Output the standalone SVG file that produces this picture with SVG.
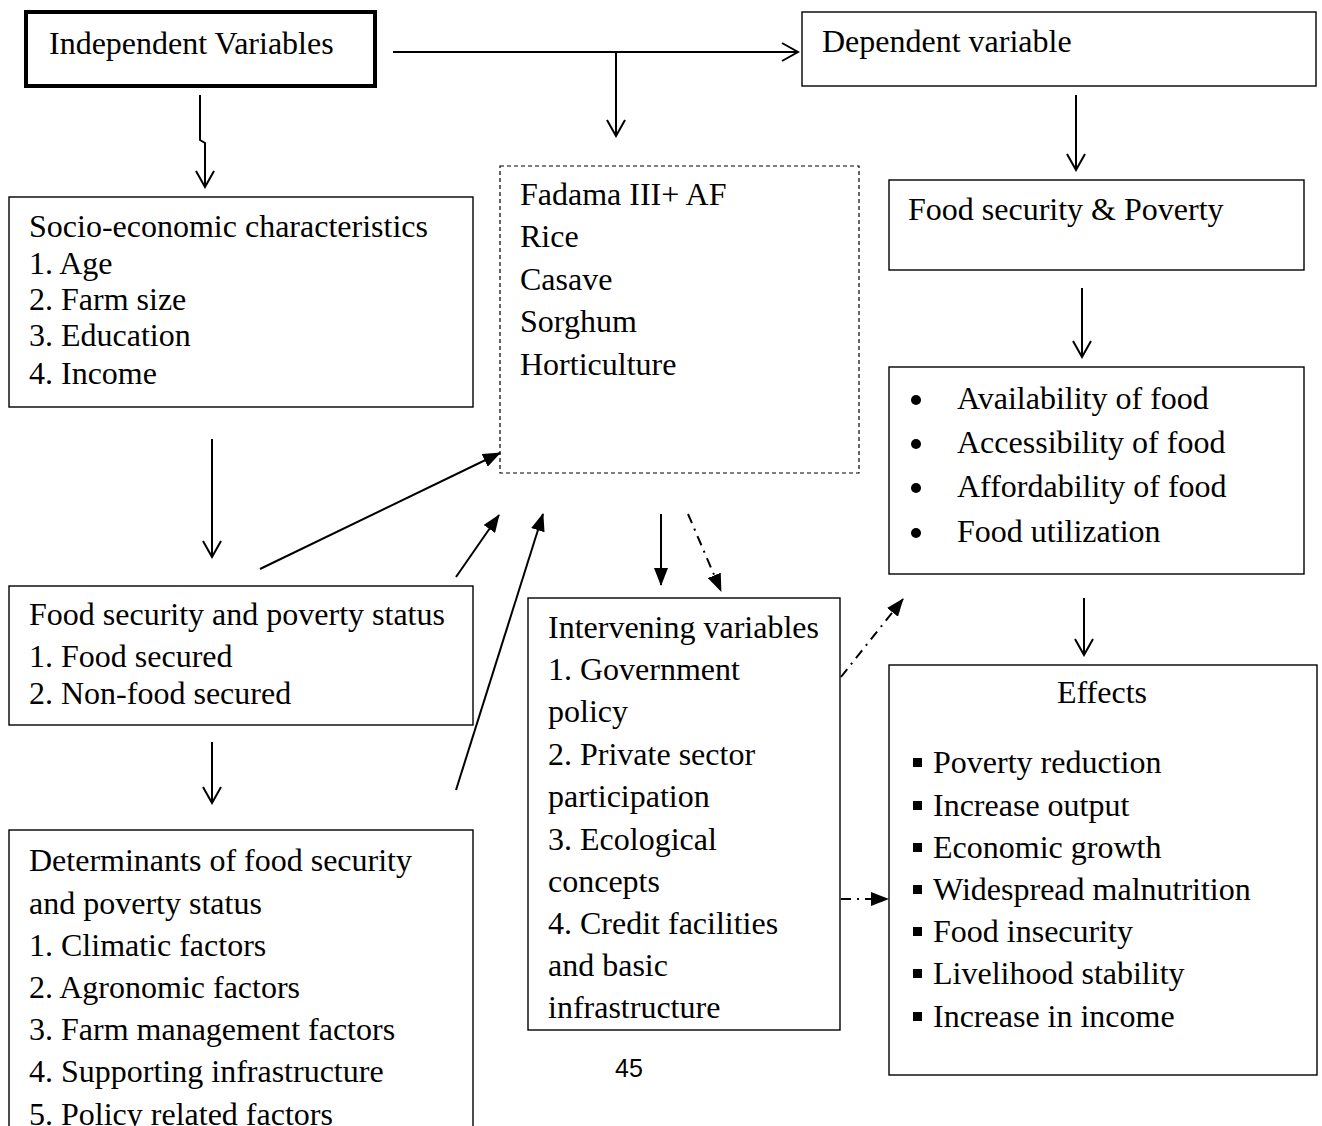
<svg xmlns="http://www.w3.org/2000/svg" width="1322" height="1126" viewBox="0 0 1322 1126">
<style>
text{font-family:"Liberation Serif","Times New Roman",serif;font-size:32px;fill:#000}
.box{fill:#fff;stroke:#000;stroke-width:1.4}
.dbox{fill:#fff;stroke:#000;stroke-width:1.2;stroke-dasharray:4 3}
.c{fill:none;stroke:#000;stroke-width:2}
.dd{stroke-dasharray:10 6 2 6}
.num{font-family:"Liberation Sans","Open Sans",sans-serif;font-size:25px}
</style>
<defs>
<marker id="open" viewBox="0 0 20 20" refX="18" refY="10" markerWidth="20" markerHeight="20" markerUnits="userSpaceOnUse" orient="auto">
<path d="M2,1 L18,10 L2,19" fill="none" stroke="#000" stroke-width="2"/>
</marker>
<marker id="fill" viewBox="0 0 18 14" refX="17" refY="7" markerWidth="18" markerHeight="14" markerUnits="userSpaceOnUse" orient="auto">
<path d="M0,0 L18,7 L0,14 Z" fill="#000"/>
</marker>
</defs>
<rect width="1322" height="1126" fill="#fff"/>

<g id="independent">
<rect x="26" y="12" width="349" height="74" fill="#fff" stroke="#000" stroke-width="4"/>
<text x="49" y="54">Independent Variables</text>
</g>
<g id="dependent">
<rect class="box" x="802" y="12" width="514" height="74"/>
<text x="822" y="52">Dependent variable</text>
</g>
<g id="fadama">
<rect class="dbox" x="500" y="166" width="359" height="307"/>
<text x="520" y="205">Fadama III+ AF</text>
<text x="520" y="247">Rice</text>
<text x="520" y="290">Casave</text>
<text x="520" y="332">Sorghum</text>
<text x="520" y="375">Horticulture</text>
</g>
<g id="food-security-poverty">
<rect class="box" x="889" y="180" width="415" height="90"/>
<text x="908" y="220">Food security &amp; Poverty</text>
</g>
<g id="socio">
<rect class="box" x="9" y="197" width="464" height="210"/>
<text x="29" y="237">Socio-economic characteristics</text>
<text x="29" y="274">1. Age</text>
<text x="29" y="310">2. Farm size</text>
<text x="29" y="346">3. Education</text>
<text x="29" y="384">4. Income</text>
</g>
<g id="food-dimensions">
<rect class="box" x="889" y="367" width="415" height="207"/>
<circle cx="916" cy="400" r="5"/>
<circle cx="916" cy="444" r="5"/>
<circle cx="916" cy="488" r="5"/>
<circle cx="916" cy="533" r="5"/>
<text x="957" y="409">Availability of food</text>
<text x="957" y="453">Accessibility of food</text>
<text x="957" y="497">Affordability of food</text>
<text x="957" y="542">Food utilization</text>
</g>
<g id="status">
<rect class="box" x="9" y="586" width="464" height="139"/>
<text x="29" y="625">Food security and poverty status</text>
<text x="29" y="667">1. Food secured</text>
<text x="29" y="704">2. Non-food secured</text>
</g>
<g id="intervening">
<rect class="box" x="528" y="598" width="312" height="432"/>
<text x="548" y="638">Intervening variables</text>
<text x="548" y="680">1. Government</text>
<text x="548" y="722">policy</text>
<text x="548" y="765">2. Private sector</text>
<text x="548" y="807">participation</text>
<text x="548" y="850">3. Ecological</text>
<text x="548" y="892">concepts</text>
<text x="548" y="934">4. Credit facilities</text>
<text x="548" y="976">and basic</text>
<text x="548" y="1018">infrastructure</text>
</g>
<g id="effects">
<rect class="box" x="889" y="665" width="428" height="410"/>
<text x="1102" y="703" text-anchor="middle">Effects</text>
<rect x="913" y="758" width="9" height="9"/>
<rect x="913" y="801" width="9" height="9"/>
<rect x="913" y="843" width="9" height="9"/>
<rect x="913" y="885" width="9" height="9"/>
<rect x="913" y="927" width="9" height="9"/>
<rect x="913" y="969" width="9" height="9"/>
<rect x="913" y="1012" width="9" height="9"/>
<text x="933" y="773">Poverty reduction</text>
<text x="933" y="816">Increase output</text>
<text x="933" y="858">Economic growth</text>
<text x="933" y="900">Widespread malnutrition</text>
<text x="933" y="942">Food insecurity</text>
<text x="933" y="984">Livelihood stability</text>
<text x="933" y="1027">Increase in income</text>
</g>
<g id="determinants">
<rect class="box" x="9" y="830" width="464" height="310"/>
<text x="29" y="871">Determinants of food security</text>
<text x="29" y="914">and poverty status</text>
<text x="29" y="956">1. Climatic factors</text>
<text x="29" y="998">2. Agronomic factors</text>
<text x="29" y="1040">3. Farm management factors</text>
<text x="29" y="1082">4. Supporting infrastructure</text>
<text x="29" y="1125">5. Policy related factors</text>
</g>
<g id="page-number">
<text class="num" x="629" y="1077" text-anchor="middle">45</text>
</g>

<g id="connectors">
<path class="c" d="M393,52 L798,52" marker-end="url(#open)"/>
<path class="c" d="M616,52 L616,136" marker-end="url(#open)"/>
<path class="c" d="M200,95 L200,140 L205,143 L205,187" marker-end="url(#open)"/>
<path class="c" d="M1076,95 L1076,170" marker-end="url(#open)"/>
<path class="c" d="M1082,288 L1082,357" marker-end="url(#open)"/>
<path class="c" d="M1084,598 L1084,655" marker-end="url(#open)"/>
<path class="c" d="M212,439 L212,557" marker-end="url(#open)"/>
<path class="c" d="M212,742 L212,803" marker-end="url(#open)"/>
<path class="c" d="M260,569 L500,453" marker-end="url(#fill)"/>
<path class="c" d="M456,577 L499,515" marker-end="url(#fill)"/>
<path class="c" d="M456,790 L543,514" marker-end="url(#fill)"/>
<path class="c" d="M661,514 L661,585" marker-end="url(#fill)"/>
<path class="c dd" d="M688,514 L721,591" marker-end="url(#fill)"/>
<path class="c dd" d="M841,677 L903,599" marker-end="url(#fill)"/>
<path class="c dd" d="M841,899 L888,899" marker-end="url(#fill)"/>
</g>
</svg>
